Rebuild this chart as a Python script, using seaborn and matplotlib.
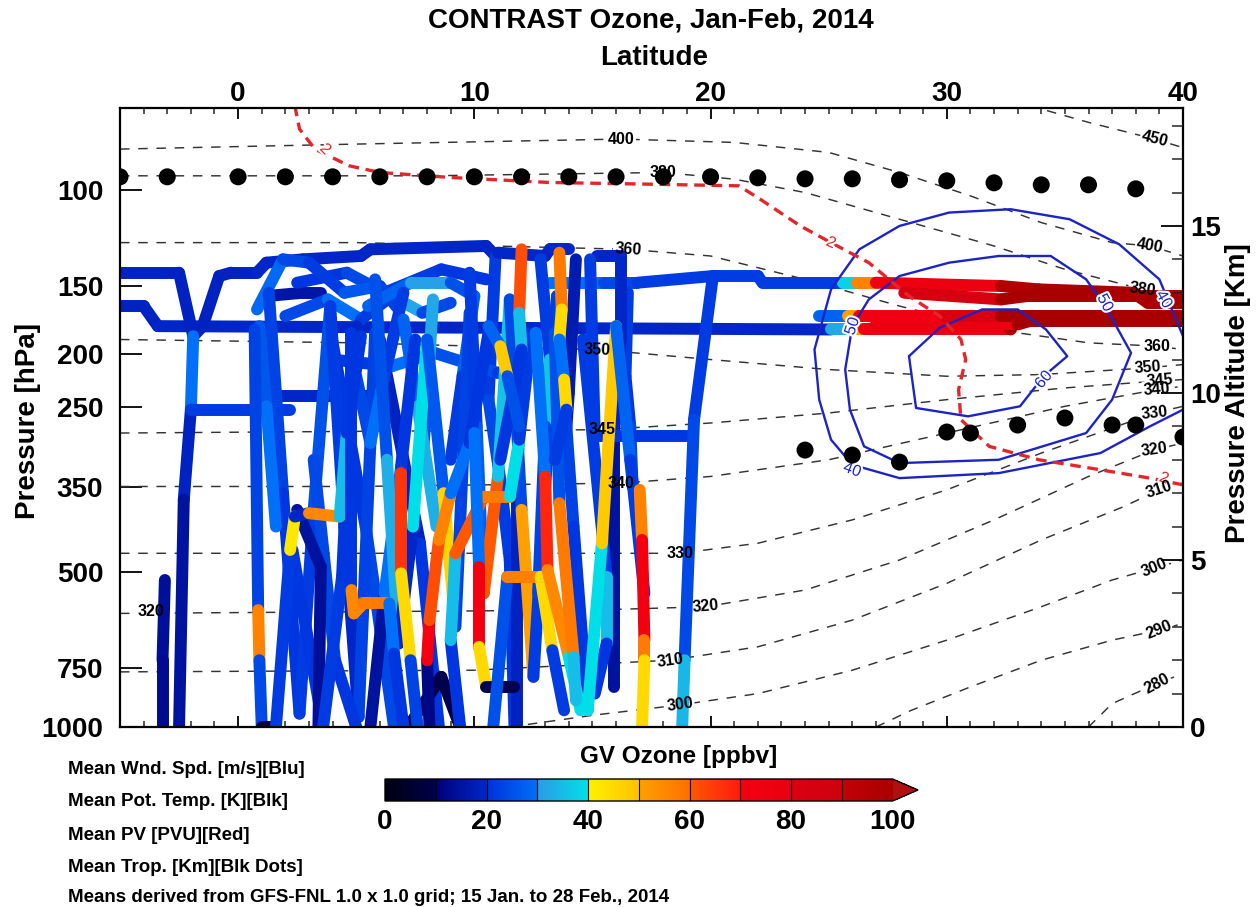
import numpy as np
import matplotlib
matplotlib.use("Agg")
import matplotlib.pyplot as plt
import matplotlib.patheffects as pe
import seaborn as sns
import pandas as pd
from matplotlib.collections import LineCollection
from matplotlib.colors import LinearSegmentedColormap, Normalize
from matplotlib.cm import ScalarMappable

# ------------------------------------------------------------------ data
LAT_TICKS = [0, 10, 20, 30, 40]
PRESSURE_TICKS = [100, 150, 200, 250, 350, 500, 750, 1000]
ALT_TICKS = [0, 5, 10, 15]
OZONE_TICKS = [0, 20, 40, 60, 80, 100]

# tropopause (black dots)
TROP_HI_LAT = [-5, -3, 0, 2, 4, 6, 8, 10, 12, 14, 16, 18, 20, 22, 24, 26, 28, 30, 32, 34, 36, 38]
TROP_HI_ALT = [16.47, 16.47, 16.47, 16.47, 16.47, 16.47, 16.47, 16.47, 16.47, 16.47, 16.47,
               16.47, 16.47, 16.44, 16.41, 16.41, 16.38, 16.35, 16.29, 16.23, 16.23, 16.11]
TROP_LO_LAT = [24, 26, 28, 30, 31, 33, 35, 37, 38, 40]
TROP_LO_ALT = [8.29, 8.14, 7.93, 8.83, 8.80, 9.04, 9.25, 9.04, 9.04, 8.68]

# potential temperature isentropes (K)
TH450_LAT = [33.5, 36.0, 38.8, 40.2]
TH450_ALT = [18.6, 18.1, 17.6, 17.3]
TH400_LAT = [-5, 5, 16.2, 21, 25, 28, 31, 34, 37, 38.6, 40]
TH400_ALT = [17.3, 17.45, 17.6, 17.5, 17.2, 16.6, 15.9, 15.1, 14.5, 14.4, 14.1]
TH380_LAT = [-5, 8, 18, 21, 24, 28, 32, 35, 38.3, 40]
TH380_ALT = [16.5, 16.5, 16.6, 16.4, 16.0, 15.2, 14.4, 13.7, 13.1, 12.8]
TH360_LAT = [-5, 5, 16.5, 20, 24, 28, 32, 36, 38.9, 40]
TH360_ALT = [14.5, 14.5, 14.3, 14.1, 13.4, 12.6, 11.9, 11.5, 11.4, 11.3]
TH350_LAT = [-5, 5, 15.2, 20, 25, 30, 34, 38.5, 40]
TH350_ALT = [11.6, 11.5, 11.3, 11.0, 10.7, 10.5, 10.55, 10.75, 10.85]
TH345_LAT = [-5, 5, 15.4, 20, 25, 30, 35, 39.0, 40]
TH345_ALT = [8.8, 8.85, 8.9, 9.1, 9.4, 9.8, 10.15, 10.36, 10.4]
TH340_LAT = [-5, 5, 16.2, 20, 25, 30, 35, 38.9, 40]
TH340_ALT = [7.2, 7.2, 7.3, 7.5, 8.0, 8.8, 9.6, 10.1, 10.2]
TH330_LAT = [-5, 10, 18.7, 22, 26, 30, 34, 38.8, 40]
TH330_ALT = [5.2, 5.2, 5.2, 5.5, 6.2, 7.1, 8.2, 9.4, 9.6]
TH320_LAT = [-5, 5, 15, 19.8, 24, 28, 32, 36, 38.8, 40]
TH320_ALT = [3.4, 3.45, 3.5, 3.6, 4.1, 5.0, 6.2, 7.5, 8.3, 8.5]
TH310_LAT = [-5, 10, 18.3, 22, 26, 30, 34, 37.5, 39.0, 40]
TH310_ALT = [1.65, 1.7, 2.0, 2.4, 3.2, 4.3, 5.6, 6.6, 7.1, 7.3]
TH300_LAT = [11.5, 15, 18.7, 22, 26, 30, 34, 37, 38.8, 40]
TH300_ALT = [0.0, 0.35, 0.66, 1.0, 1.7, 2.6, 3.6, 4.4, 4.76, 5.0]
TH290_LAT = [27, 28.5, 31, 34, 37, 39, 40]
TH290_ALT = [0.0, 0.5, 1.2, 2.0, 2.6, 2.9, 3.1]
TH280_LAT = [36, 37, 38.9, 40]
TH280_ALT = [0.0, 0.7, 1.3, 1.6]

THETA_LABEL_TEXT = ["450", "400", "400", "380", "380", "360", "360", "350", "350", "345", "345",
                    "340", "340", "330", "330", "320", "320", "320", "310", "310", "300", "300",
                    "290", "280"]
THETA_LABEL_LAT = [38.8, 16.2, 38.6, 18.0, 38.3, 16.5, 38.9, 15.2, 38.5, 15.4, 39.0,
                   16.2, 38.9, 18.7, 38.8, -3.7, 19.8, 38.8, 18.3, 39.0, 18.7, 38.8, 39.0, 38.9]
THETA_LABEL_ALT = [17.6, 17.6, 14.4, 16.6, 13.1, 14.3, 11.4, 11.3, 10.75, 8.9, 10.36,
                   7.3, 10.1, 5.2, 9.4, 3.45, 3.6, 8.3, 2.0, 7.1, 0.66, 4.76, 2.9, 1.3]
THETA_LABEL_ROT = [-14, 0, -10, 0, -8, -4, 0, -2, 4, 0, 4,
                   0, 4, 0, 6, 0, 5, 8, 8, 18, 8, 22, 22, 28]

# potential vorticity 2 PVU (red dashed)
PV2_LAT = [2.4, 2.6, 3.25, 4.7, 6.0, 9.0, 13.2, 17.4, 21.2, 22.1, 23.8, 25.1, 26.7, 28.4,
           29.7, 30.6, 30.8, 30.5, 30.6, 31.8, 33.9, 36.5, 38.6, 40.0]
PV2_ALT = [18.6, 17.9, 17.3, 16.8, 16.6, 16.45, 16.3, 16.25, 16.2, 15.8, 15.0, 14.5, 13.9,
           12.9, 12.3, 11.6, 11.0, 10.1, 9.2, 8.4, 8.0, 7.7, 7.45, 7.25]

# wind speed contours (m/s, blue)
W40_LAT = [40.0, 39.0, 37.3, 35.2, 32.7, 30.1, 28.0, 26.3, 25.1, 24.4, 24.6, 25.1, 26.0,
           28.0, 32.2, 36.5, 38.6, 40.0]
W40_ALT = [11.7, 13.4, 14.45, 15.2, 15.5, 15.4, 15.0, 14.3, 13.1, 11.3, 9.8, 8.6, 7.85,
           7.45, 7.6, 8.2, 9.0, 9.5]
W50_LAT = [32.2, 34.4, 35.9, 36.7, 37.8, 37.0, 35.9, 32.2, 28.0, 26.5, 25.9, 25.7, 26.0,
           26.7, 28.0, 30.1, 32.2]
W50_ALT = [14.1, 14.1, 13.4, 12.6, 11.2, 9.8, 8.8, 8.0, 7.9, 8.4, 9.5, 10.7, 12.0, 12.8,
           13.5, 13.9, 14.1]
W60_LAT = [28.4, 29.7, 31.5, 33.0, 34.2, 35.1, 34.1, 33.1, 30.9, 28.7, 28.4]
W60_ALT = [11.1, 11.95, 12.5, 12.5, 11.9, 11.1, 10.5, 9.6, 9.3, 9.55, 11.1]

WIND_LABEL_TEXT = ["40", "50", "50", "60", "40"]
WIND_LABEL_LAT = [39.2, 36.7, 26.0, 34.1, 26.0]
WIND_LABEL_ALT = [12.8, 12.7, 12.0, 10.4, 7.7]
WIND_LABEL_ROT = [-60, -62, 72, 50, -20]

PV_LABEL_LAT = [3.7, 25.1, 39.2]
PV_LABEL_ALT = [17.3, 14.5, 7.45]
PV_LABEL_ROT = [-45, -25, -20]

# GV flight tracks: latitude, pressure altitude (km), ozone (ppbv, one per segment)
TRK01_LAT = [-5.0, -2.5, -1.9, -1.5, -0.8, -0.3, 0.8, 1.2, 2.75, 5.2, 5.6, 10.5, 10.9, 10.6, 11.1, 11.5, 11.7]
TRK01_ALT = [13.6, 13.6, 11.7, 12.0, 13.5, 13.6, 13.6, 13.9, 14.0, 14.1, 14.3, 14.4, 14.1, 9.8, 7.4, 5.0, 0.0]
TRK01_O3 = [19, 19, 19, 19, 19, 19, 20, 20, 20, 20, 20, 20, 22, 24, 22, 21]
TRK02_LAT = [-5.0, -4.0, -3.4, 25.1, 25.9, 26.5, 32.7, 33.0, 40.0]
TRK02_ALT = [12.6, 12.6, 12.0, 11.9, 11.9, 11.9, 11.9, 12.3, 12.3]
TRK02_O3 = [19, 19, 20, 32, 52, 76, 98, 100]
TRK03_LAT = [24.6, 25.8, 26.3, 29.9, 32.3, 40.0]
TRK03_ALT = [12.3, 12.3, 12.3, 12.3, 12.3, 12.3]
TRK03_O3 = [28, 50, 74, 82, 100]
TRK04_LAT = [13.2, 15.5, 16.9, 20.1, 22.0, 22.2, 25.6, 26.2, 27.0, 32.3, 33.9, 37.9, 38.5, 40.0]
TRK04_ALT = [13.3, 13.3, 13.3, 13.5, 13.5, 13.3, 13.3, 13.3, 13.3, 13.2, 13.1, 13.0, 12.7, 12.7]
TRK04_O3 = [30, 24, 22, 22, 22, 22, 38, 56, 76, 96, 100, 100, 100]
TRK05_LAT = [28.2, 32.3, 33.4, 40.0]
TRK05_ALT = [13.0, 12.8, 12.9, 12.9]
TRK05_O3 = [84, 100, 100]
TRK06_LAT = [20.1, 19.3, 18.9, 18.8]
TRK06_ALT = [13.5, 9.2, 2.0, 0.0]
TRK06_O3 = [22, 24, 34]
TRK07_LAT = [17.0, 17.1, 17.2, 17.2, 17.1]
TRK07_ALT = [7.1, 5.6, 2.6, 2.0, 0.0]
TRK07_O3 = [56, 72, 58, 45]
TRK08_LAT = [15.2, 16.2, 16.2, 15.9, 15.9]
TRK08_ALT = [14.1, 14.1, 11.7, 8.6, 1.2]
TRK08_O3 = [20, 20, 19, 15]
TRK09_LAT = [14.9, 15.1, 19.2]
TRK09_ALT = [14.0, 8.7, 8.7]
TRK09_O3 = [22, 21]
TRK10_LAT = [-1.9, -2.0, -2.3, -2.5]
TRK10_ALT = [11.7, 9.5, 6.8, 0.0]
TRK10_O3 = [30, 19, 15]
TRK11_LAT = [-3.1, -3.2, -3.2]
TRK11_ALT = [4.4, 2.0, 0.0]
TRK11_O3 = [14, 13]
TRK12_LAT = [-2.0, 2.2]
TRK12_ALT = [9.5, 9.5]
TRK12_O3 = [22]
TRK13_LAT = [0.7, 0.85, 0.9, 1.0, 1.6]
TRK13_ALT = [11.9, 3.5, 2.0, 0.0, 0.0]
TRK13_O3 = [23, 56, 24, 8]
TRK14_LAT = [1.6, 2.2, 2.4, 3.0, 4.3, 4.6, 5.2]
TRK14_ALT = [0.0, 5.3, 6.3, 6.4, 6.3, 8.8, 11.7]
TRK14_O3 = [22, 42, 20, 55, 35, 21]
TRK15_LAT = [2.3, 3.6]
TRK15_ALT = [5.3, 0.0]
TRK15_O3 = [21]
TRK16_LAT = [2.5, 3.5, 3.4]
TRK16_ALT = [6.5, 4.8, 0.0]
TRK16_O3 = [15, 14]
TRK17_LAT = [3.6, 4.4, 4.7, 5.0]
TRK17_ALT = [0.0, 4.5, 8.8, 12.0]
TRK17_O3 = [22, 21, 20]
TRK18_LAT = [4.8, 4.8, 4.9, 5.3, 6.4, 6.6, 7.0]
TRK18_ALT = [11.8, 4.1, 3.4, 3.7, 3.7, 2.2, 0.0]
TRK18_O3 = [21, 55, 55, 58, 30, 21]
TRK19_LAT = [5.6, 6.2, 6.9, 7.5]
TRK19_ALT = [0.0, 4.0, 7.8, 11.6]
TRK19_O3 = [15, 30, 21]
TRK20_LAT = [6.9, 6.9, 7.3, 7.6]
TRK20_ALT = [7.6, 4.6, 2.0, 0.0]
TRK20_O3 = [66, 45, 23]
TRK21_LAT = [8.1, 8.0, 8.1, 8.5, 9.0, 9.8, 10.6]
TRK21_ALT = [0.0, 2.0, 3.2, 5.6, 7.0, 8.5, 11.8]
TRK21_O3 = [12, 70, 62, 56, 30, 21]
TRK22_LAT = [9.4, 9.0, 9.2, 10.4, 11.5, 11.9, 12.4]
TRK22_ALT = [0.0, 2.6, 5.2, 6.9, 6.9, 8.6, 11.7]
TRK22_O3 = [21, 35, 60, 58, 40, 22]
TRK23_LAT = [10.0, 10.2, 10.2, 10.5, 11.7]
TRK23_ALT = [8.8, 4.8, 2.4, 1.2, 1.2]
TRK23_O3 = [30, 72, 45, 10]
TRK24_LAT = [12.2, 11.8, 11.8]
TRK24_ALT = [11.8, 7.7, 0.0]
TRK24_O3 = [21, 19]
TRK25_LAT = [10.8, 11.4, 12.8, 13.3, 13.8]
TRK25_ALT = [0.0, 4.5, 4.5, 2.3, 0.5]
TRK25_O3 = [25, 57, 45, 22]
TRK26_LAT = [12.6, 13.0, 13.1, 14.0, 14.5]
TRK26_ALT = [11.8, 7.5, 4.7, 2.1, 0.5]
TRK26_O3 = [30, 68, 55, 40]
TRK27_LAT = [13.4, 13.6, 14.2, 14.3]
TRK27_ALT = [11.8, 6.7, 2.1, 0.8]
TRK27_O3 = [25, 58, 35]
TRK28_LAT = [14.6, 15.6, 15.6, 15.1]
TRK28_ALT = [11.6, 4.5, 2.5, 1.0]
TRK28_O3 = [22, 35, 21]
TRK29_LAT = [12.0, 11.9, 12.0, 11.1]
TRK29_ALT = [14.3, 12.4, 11.3, 8.0]
TRK29_O3 = [62, 35, 21]
TRK30_LAT = [13.6, 13.7, 13.6, 13.8, 13.9, 13.4]
TRK30_ALT = [14.2, 12.5, 11.6, 10.4, 9.5, 8.0]
TRK30_O3 = [58, 45, 30, 45, 22]
TRK31_LAT = [10.6, 11.1, 11.4, 11.9]
TRK31_ALT = [12.0, 11.4, 10.5, 9.0]
TRK31_O3 = [28, 48, 25]
TRK32_LAT = [5.5, 7.3, 9.0, 10.0, 9.5, 9.0]
TRK32_ALT = [12.6, 13.3, 13.3, 12.9, 10.5, 8.0]
TRK32_O3 = [28, 31, 25, 28, 22]
TRK33_LAT = [0.8, 1.9, 3.0, 4.5, 6.0, 6.8]
TRK33_ALT = [12.5, 14.0, 13.9, 13.0, 13.2, 12.5]
TRK33_O3 = [29, 24, 22, 26, 23]
TRK34_LAT = [8.25, 8.0, 7.8]
TRK34_ALT = [12.8, 9.8, 8.0]
TRK34_O3 = [32, 25]
TRK35_LAT = [1.2, 2.75, 3.5]
TRK35_ALT = [12.9, 13.0, 13.0]
TRK35_O3 = [16, 16]
TRK36_LAT = [1.2, 5.6]
TRK36_ALT = [9.9, 9.9]
TRK36_O3 = [20]
TRK37_LAT = [11.0, 13.0, 13.2, 14.0]
TRK37_ALT = [14.2, 14.1, 14.3, 14.3]
TRK37_O3 = [20, 20, 20]
TRK38_LAT = [14.3, 14.0, 13.8]
TRK38_ALT = [14.0, 10.0, 8.0]
TRK38_O3 = [17, 17]
TRK39_LAT = [7.2, 8.6, 9.4]
TRK39_ALT = [0.0, 1.5, 0.0]
TRK39_O3 = [10, 10]
TRK40_LAT = [3.9, 5.4, 6.6]
TRK40_ALT = [11.9, 6.0, 0.0]
TRK40_O3 = [21, 24]
TRK41_LAT = [6.0, 7.7, 8.5]
TRK41_ALT = [11.6, 5.5, 0.0]
TRK41_O3 = [19, 21]
TRK42_LAT = [1.3, 1.9, 2.6, 3.2, 3.9, 4.5, 5.1, 5.8]
TRK42_ALT = [13.0, 7.0, 0.4, 6.5, 12.6, 6.0, 0.3, 11.8]
TRK42_O3 = [23, 21, 22, 25, 22, 20, 23]
TRK43_LAT = [5.8, 6.3, 6.8, 7.4, 8.0, 8.7, 9.2, 9.8]
TRK43_ALT = [13.4, 8.0, 2.5, 6.0, 11.6, 7.0, 3.0, 12.4]
TRK43_O3 = [25, 33, 20, 40, 26, 46, 23]
TRK44_LAT = [9.8, 10.1, 10.4, 11.0, 11.5, 12.0, 12.5, 13.5]
TRK44_ALT = [13.6, 9.0, 4.0, 7.5, 12.8, 6.5, 1.5, 12.9]
TRK44_O3 = [22, 27, 60, 36, 24, 50, 22]
TRK45_LAT = [13.5, 14.2, 14.8, 15.4, 16.0, 16.6, 17.2]
TRK45_ALT = [12.9, 6.0, 0.5, 5.5, 12.0, 8.0, 4.0]
TRK45_O3 = [23, 21, 40, 48, 28, 22]
TRK46_LAT = [2.0, 3.8, 5.2, 6.5, 7.8, 9.0]
TRK46_ALT = [12.3, 12.8, 12.2, 12.9, 12.4, 12.7]
TRK46_O3 = [24, 30, 22, 32, 24]
TRK47_LAT = [2.5, 4.6, 6.2, 8.6, 10.5]
TRK47_ALT = [13.3, 13.6, 13.0, 13.7, 13.4]
TRK47_O3 = [21, 24, 22, 21]
TRK48_LAT = [4.0, 6.5, 8.3, 11.0, 12.6]
TRK48_ALT = [11.0, 10.8, 11.2, 10.6, 10.9]
TRK48_O3 = [22, 30, 25, 22]
TRK49_LAT = [5.0, 5.6, 6.1, 7.0]
TRK49_ALT = [10.5, 8.5, 10.2, 13.0]
TRK49_O3 = [24, 30, 22]
TRK50_LAT = [12.8, 13.2, 13.0, 12.7]
TRK50_ALT = [14.0, 11.0, 9.0, 4.0]
TRK50_O3 = [22, 36, 23]
TRK51_LAT = [16.5, 16.4, 16.6, 16.7]
TRK51_ALT = [13.0, 10.5, 9.0, 7.2]
TRK51_O3 = [22, 21, 24]
TRK52_LAT = [0.9, 1.2, 1.6]
TRK52_ALT = [12.0, 9.6, 6.0]
TRK52_O3 = [26, 30]
TRK53_LAT = [7.0, 7.6, 8.4]
TRK53_ALT = [12.2, 9.6, 6.0]
TRK53_O3 = [28, 33]
TRK54_LAT = [3.2, 4.1, 5.0]
TRK54_ALT = [8.0, 2.0, 0.0]
TRK54_O3 = [24, 21]
TRK55_LAT = [27.0, 33.0, 33.5, 40.0]
TRK55_ALT = [12.05, 12.05, 12.15, 12.15]
TRK55_O3 = [78, 100, 100]

NOTES = ["Mean Wnd. Spd. [m/s][Blu]", "Mean Pot. Temp. [K][Blk]", "Mean PV [PVU][Red]",
         "Mean Trop. [Km][Blk Dots]",
         "Means derived from GFS-FNL 1.0 x 1.0 grid; 15 Jan. to 28 Feb., 2014"]

# ------------------------------------------------------------------ style
sns.set_theme(style="ticks")
NARROW = ["Liberation Sans Narrow", "Liberation Sans", "DejaVu Sans"]
PLAIN = ["Liberation Sans", "DejaVu Sans"]
plt.rcParams["font.family"] = NARROW
plt.rcParams["font.weight"] = "bold"
plt.rcParams["text.color"] = "black"
plt.rcParams["axes.labelcolor"] = "black"

W, H = 1257, 907
fig = plt.figure(figsize=(W / 100, H / 100), dpi=100)
fig.patch.set_facecolor("white")
ax = fig.add_axes([120 / W, (H - 727) / H, (1183 - 120) / W, (727 - 108) / H])
YTOP = 18.53
ax.set_xlim(-5, 40)
ax.set_ylim(0, YTOP)
ax.set_facecolor("white")

# ozone colormap
cmap = LinearSegmentedColormap.from_list("gv_o3", [
    (0.00, "#000010"), (0.10, "#00004c"),
    (0.10, "#000078"), (0.20, "#0026c8"),
    (0.20, "#0030dc"), (0.30, "#0070f8"),
    (0.30, "#2a9ae8"), (0.40, "#00e0e8"),
    (0.40, "#fff200"), (0.50, "#ffc000"),
    (0.50, "#ffa000"), (0.60, "#ff7000"),
    (0.60, "#ff5a00"), (0.70, "#ff1a10"),
    (0.70, "#f50010"), (0.80, "#e80010"),
    (0.80, "#dc0010"), (0.90, "#cf0010"),
    (0.90, "#c40008"), (1.00, "#a80000")], N=512)
cmap.set_over("#b01010")
norm = Normalize(0, 100)

# isentropes (below tracks)
theta_lines = [(TH450_LAT, TH450_ALT), (TH400_LAT, TH400_ALT), (TH380_LAT, TH380_ALT),
               (TH360_LAT, TH360_ALT), (TH350_LAT, TH350_ALT), (TH345_LAT, TH345_ALT),
               (TH340_LAT, TH340_ALT), (TH330_LAT, TH330_ALT), (TH320_LAT, TH320_ALT),
               (TH310_LAT, TH310_ALT), (TH300_LAT, TH300_ALT), (TH290_LAT, TH290_ALT),
               (TH280_LAT, TH280_ALT)]
for la, al in theta_lines:
    ax.plot(la, al, color="#333333", lw=1.05, linestyle=(0, (6.5, 6.0)), zorder=1)

lab_font = dict(family=PLAIN, weight="bold", size=11.5)
for t, la, al, r in zip(THETA_LABEL_TEXT, THETA_LABEL_LAT, THETA_LABEL_ALT, THETA_LABEL_ROT):
    ax.text(la, al, t, color="none", ha="center", va="center", rotation=r, zorder=1.5,
            bbox=dict(facecolor="white", edgecolor="none", pad=1.0), **lab_font)
    ax.text(la, al, t, color="black", ha="center", va="center", rotation=r, zorder=12,
            **lab_font)

# flight tracks
TRACKS = [
    (TRK02_LAT, TRK02_ALT, TRK02_O3), (TRK55_LAT, TRK55_ALT, TRK55_O3),
    (TRK03_LAT, TRK03_ALT, TRK03_O3), (TRK01_LAT, TRK01_ALT, TRK01_O3),
    (TRK04_LAT, TRK04_ALT, TRK04_O3), (TRK05_LAT, TRK05_ALT, TRK05_O3),
    (TRK10_LAT, TRK10_ALT, TRK10_O3), (TRK11_LAT, TRK11_ALT, TRK11_O3),
    (TRK12_LAT, TRK12_ALT, TRK12_O3), (TRK35_LAT, TRK35_ALT, TRK35_O3),
    (TRK36_LAT, TRK36_ALT, TRK36_O3), (TRK37_LAT, TRK37_ALT, TRK37_O3),
    (TRK47_LAT, TRK47_ALT, TRK47_O3), (TRK46_LAT, TRK46_ALT, TRK46_O3),
    (TRK48_LAT, TRK48_ALT, TRK48_O3), (TRK33_LAT, TRK33_ALT, TRK33_O3),
    (TRK32_LAT, TRK32_ALT, TRK32_O3), (TRK34_LAT, TRK34_ALT, TRK34_O3),
    (TRK38_LAT, TRK38_ALT, TRK38_O3), (TRK40_LAT, TRK40_ALT, TRK40_O3),
    (TRK41_LAT, TRK41_ALT, TRK41_O3), (TRK39_LAT, TRK39_ALT, TRK39_O3),
    (TRK42_LAT, TRK42_ALT, TRK42_O3), (TRK54_LAT, TRK54_ALT, TRK54_O3),
    (TRK52_LAT, TRK52_ALT, TRK52_O3), (TRK49_LAT, TRK49_ALT, TRK49_O3),
    (TRK53_LAT, TRK53_ALT, TRK53_O3), (TRK51_LAT, TRK51_ALT, TRK51_O3),
    (TRK08_LAT, TRK08_ALT, TRK08_O3), (TRK09_LAT, TRK09_ALT, TRK09_O3),
    (TRK06_LAT, TRK06_ALT, TRK06_O3), (TRK24_LAT, TRK24_ALT, TRK24_O3),
    (TRK15_LAT, TRK15_ALT, TRK15_O3), (TRK16_LAT, TRK16_ALT, TRK16_O3),
    (TRK17_LAT, TRK17_ALT, TRK17_O3), (TRK19_LAT, TRK19_ALT, TRK19_O3),
    (TRK28_LAT, TRK28_ALT, TRK28_O3), (TRK43_LAT, TRK43_ALT, TRK43_O3),
    (TRK44_LAT, TRK44_ALT, TRK44_O3), (TRK45_LAT, TRK45_ALT, TRK45_O3),
    (TRK50_LAT, TRK50_ALT, TRK50_O3), (TRK13_LAT, TRK13_ALT, TRK13_O3),
    (TRK14_LAT, TRK14_ALT, TRK14_O3), (TRK18_LAT, TRK18_ALT, TRK18_O3),
    (TRK20_LAT, TRK20_ALT, TRK20_O3), (TRK21_LAT, TRK21_ALT, TRK21_O3),
    (TRK22_LAT, TRK22_ALT, TRK22_O3), (TRK23_LAT, TRK23_ALT, TRK23_O3),
    (TRK25_LAT, TRK25_ALT, TRK25_O3), (TRK26_LAT, TRK26_ALT, TRK26_O3),
    (TRK27_LAT, TRK27_ALT, TRK27_O3), (TRK29_LAT, TRK29_ALT, TRK29_O3),
    (TRK30_LAT, TRK30_ALT, TRK30_O3), (TRK31_LAT, TRK31_ALT, TRK31_O3),
    (TRK07_LAT, TRK07_ALT, TRK07_O3),
]
for la, al, o3 in TRACKS:
    pts = np.column_stack([la, al])
    segs = np.stack([pts[:-1], pts[1:]], axis=1)
    lc = LineCollection(segs, cmap=cmap, norm=norm, linewidths=8.6,
                        capstyle="round", joinstyle="round", zorder=3)
    lc.set_array(np.asarray(o3, dtype=float))
    ax.add_collection(lc)

# wind speed contours and PV line (above tracks)
for la, al in [(W40_LAT, W40_ALT), (W50_LAT, W50_ALT), (W60_LAT, W60_ALT)]:
    ax.plot(la, al, color="#1c24c4", lw=1.7, zorder=6, solid_joinstyle="round")
ax.plot(PV2_LAT, PV2_ALT, color="#e3262b", lw=2.4, linestyle=(0, (3.2, 2.0)), zorder=7)

halo = [pe.withStroke(linewidth=3, foreground="white")]
for t, la, al, r in zip(WIND_LABEL_TEXT, WIND_LABEL_LAT, WIND_LABEL_ALT, WIND_LABEL_ROT):
    ax.text(la, al, t, color="#1c24c4", ha="center", va="center", rotation=r, zorder=8,
            family=PLAIN, weight="normal", size=11.5, path_effects=halo)
for la, al, r in zip(PV_LABEL_LAT, PV_LABEL_ALT, PV_LABEL_ROT):
    ax.text(la, al, "2", color="#e3262b", ha="center", va="center", rotation=r, zorder=8,
            family=PLAIN, weight="normal", size=11.5, path_effects=halo)

# tropopause dots
trop = pd.DataFrame({"lat": TROP_HI_LAT + TROP_LO_LAT, "alt": TROP_HI_ALT + TROP_LO_ALT})
sns.scatterplot(data=trop, x="lat", y="alt", color="black", s=150, edgecolor="none",
                ax=ax, zorder=9, legend=False)

# ------------------------------------------------------------------ axes
for sp in ax.spines.values():
    sp.set_color("black")
    sp.set_linewidth(1.6)
    sp.set_visible(True)
    sp.set_zorder(20)

ax.set_xticks(LAT_TICKS)
ax.set_xticks(np.arange(-5, 41, 1), minor=True)
ax.set_xticklabels([str(v) for v in LAT_TICKS])
ax.tick_params(axis="x", which="major", direction="in", length=8, width=1.3, top=True,
               bottom=True, labeltop=True, labelbottom=False, labelsize=20, pad=1,
               colors="black")
ax.tick_params(axis="x", which="minor", direction="in", length=4.5, width=1.1, top=True,
               bottom=True)
ax.set_xlabel("")
ax.set_ylabel("")

P_SCALE_H, P_SURF = 7.11, 960.0
ytick_pos = [max(0.0, P_SCALE_H * np.log(P_SURF / p)) for p in PRESSURE_TICKS]
ax.set_yticks(ytick_pos)
ax.set_yticklabels([str(p) for p in PRESSURE_TICKS])
ax.tick_params(axis="y", which="major", direction="in", length=16, width=1.3, left=True,
               right=False, labelsize=20, pad=12, colors="black")
ax.set_ylim(0, YTOP)

ax2 = ax.twinx()
ax2.set_ylim(0, YTOP)
ax2.set_yticks(ALT_TICKS)
ax2.set_yticks([1, 2, 3, 4, 6, 7, 8, 9, 11, 12, 13, 14, 16, 17, 18], minor=True)
ax2.set_yticklabels([str(v) for v in ALT_TICKS])
ax2.tick_params(axis="y", which="major", direction="in", length=16, width=1.3, right=True,
                left=False, labelsize=20, pad=5, colors="black")
ax2.tick_params(axis="y", which="minor", direction="in", length=8, width=1.1, right=True,
                left=False)
for sp in ax2.spines.values():
    sp.set_visible(False)

fig.text(651 / W, 1 - 20 / H, "CONTRAST Ozone, Jan-Feb, 2014", ha="center", va="center",
         fontsize=20, fontweight="bold")
fig.text(654 / W, 1 - 58 / H, "Latitude", ha="center", va="center",
         fontsize=20, fontweight="bold")
fig.text(28 / W, 1 - 421 / H, "Pressure [hPa]", ha="center", va="center", rotation=90,
         fontsize=20, fontweight="bold")
fig.text(1238 / W, 1 - 393 / H, "Pressure Altitude [Km]", ha="center", va="center",
         rotation=90, fontsize=20, fontweight="bold")

# ------------------------------------------------------------------ colorbar
cax = fig.add_axes([385 / W, (H - 801) / H, (918 - 385) / W, 22 / H])
sm = ScalarMappable(norm=norm, cmap=cmap)
cb = fig.colorbar(sm, cax=cax, orientation="horizontal", extend="max", ticks=OZONE_TICKS)
for v in [10, 20, 30, 40, 50, 60, 70, 80, 90]:
    cax.axvline(v, color="black", lw=0.8)
cb.outline.set_linewidth(1.0)
cb.outline.set_edgecolor("black")
cax.tick_params(axis="x", length=0, labelsize=20, pad=6, colors="black")
fig.text(679 / W, 1 - 757 / H, "GV Ozone [ppbv]", ha="center", va="center",
         fontsize=17.5, fontweight="bold")

note_y = [770, 802, 835, 867, 897]
for txt, yy in zip(NOTES, note_y):
    fig.text(68 / W, 1 - yy / H, txt, ha="left", va="center", fontsize=13.5,
             fontweight="bold")

fig.savefig("out.png", dpi=100, facecolor="white")
